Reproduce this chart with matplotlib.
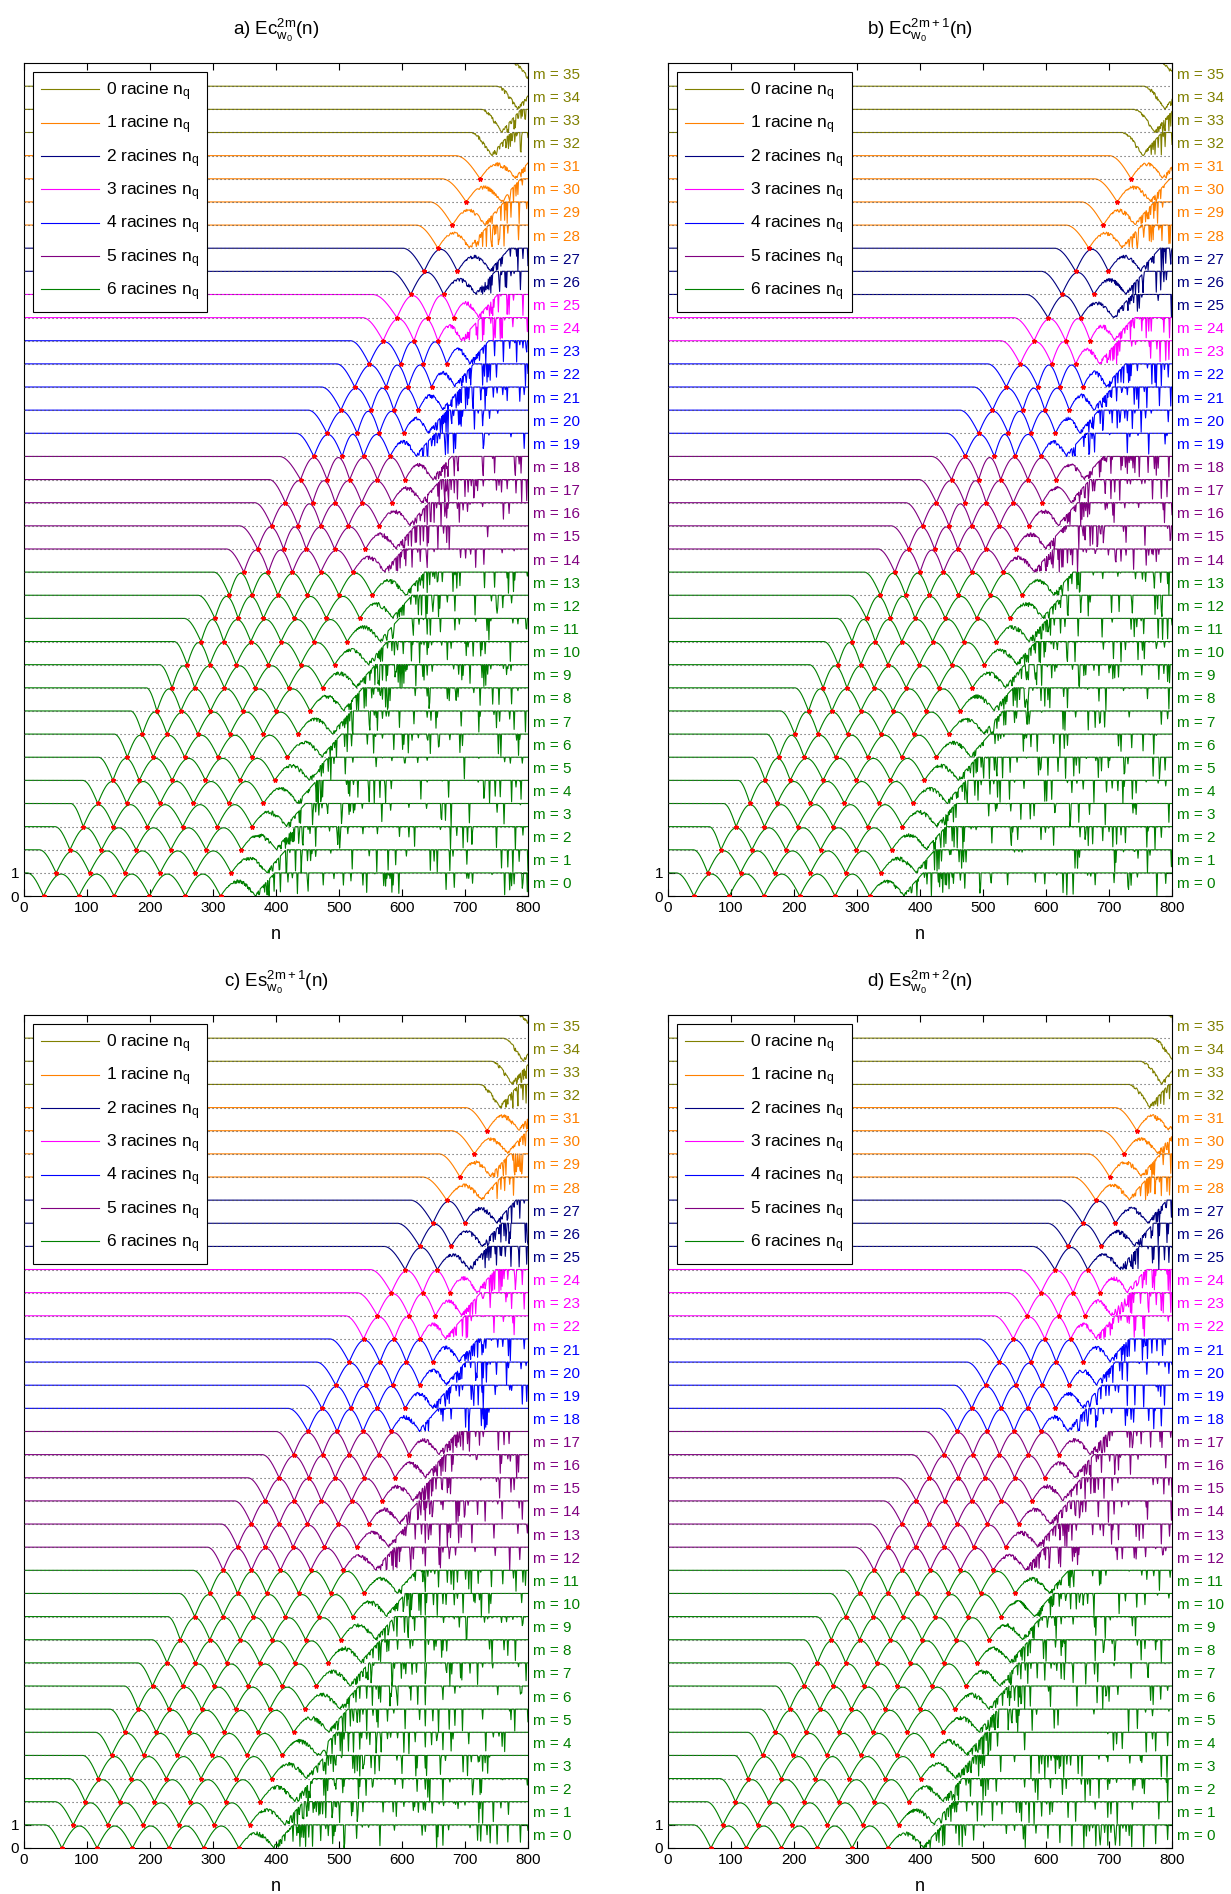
import numpy as np
import matplotlib
matplotlib.use("Agg")
import matplotlib.pyplot as plt
from matplotlib.lines import Line2D

plt.rcParams["font.family"] = ["Liberation Sans", "DejaVu Sans"]
plt.rcParams["mathtext.fontset"] = "custom"
plt.rcParams["mathtext.rm"] = "Liberation Sans"
plt.rcParams["mathtext.it"] = "Liberation Sans:italic"

# ---------------------------------------------------------------------------
# Data: for every order m (0..35) the abscissa where the curve leaves its
# plateau and the abscissas of the roots n_q.
# ---------------------------------------------------------------------------
M_VALUES = list(range(36))

ONSET_A = [5, 24, 49, 74, 93, 118, 143, 169, 194, 215, 238, 254, 276, 301, 321, 342,
           366, 389, 405, 432, 451, 472, 496, 518, 537, 553, 581, 601, 622, 644, 663,
           685, 710, 726, 751, 776]
ROOTS_A = [
    [31, 87, 143, 199, 256, 312], [51, 104, 160, 216, 272, 329],
    [73, 123, 178, 233, 289, 345], [94, 142, 196, 252, 307, 362],
    [117, 163, 216, 269, 325, 380], [141, 183, 235, 288, 343, 398],
    [164, 205, 255, 308, 362, 418], [188, 227, 276, 327, 380, 435],
    [211, 249, 296, 347, 400, 454], [235, 271, 318, 367, 420, 474],
    [259, 295, 337, 388, 439, 493], [281, 317, 360, 408, 460, 513],
    [303, 340, 380, 429, 480, 533], [326, 362, 403, 450, 500, 553],
    [349, 388, 426, 471, 522], [371, 412, 448, 493, 542],
    [393, 435, 471, 515, 564], [415, 458, 494, 536, 584],
    [439, 481, 517, 561, 605], [460, 505, 539, 581],
    [481, 529, 564, 603], [503, 551, 587, 626],
    [525, 575, 610, 647], [548, 598, 634, 671],
    [570, 619, 657], [592, 642, 682],
    [614, 666], [635, 688],
    [657], [680], [702], [724],
    [], [], [], [],
]

ONSET_B = [13, 40, 65, 88, 111, 133, 156, 178, 201, 224, 247, 268, 286, 311, 333, 354,
           377, 398, 418, 442, 463, 485, 507, 528, 548, 568, 592, 613, 631, 656, 676,
           700, 721, 740, 756, 782]
ROOTS_B = [
    [41, 97, 152, 209, 265, 320], [63, 115, 169, 226, 282, 338],
    [84, 133, 187, 242, 299, 355], [108, 153, 206, 262, 317, 372],
    [130, 173, 226, 280, 335, 389], [154, 194, 246, 299, 353, 407],
    [176, 216, 266, 317, 371, 426], [201, 238, 285, 338, 390, 446],
    [223, 260, 306, 357, 410, 464], [246, 284, 327, 378, 430, 483],
    [270, 306, 349, 399, 450, 502], [292, 329, 371, 420, 469, 521],
    [315, 353, 392, 440, 490, 543], [337, 377, 415, 461, 511, 562],
    [360, 400, 437, 482, 532], [382, 423, 460, 504, 552],
    [404, 446, 482, 526, 573], [426, 471, 505, 548, 594],
    [450, 493, 528, 571, 616], [472, 518, 551, 592],
    [493, 540, 576, 615], [515, 563, 598, 637],
    [537, 587, 622, 659], [559, 609, 647],
    [581, 631, 670], [603, 655],
    [625, 676], [647, 699],
    [668], [691], [713], [735],
    [], [], [], [],
]

ONSET_C = [33, 49, 71, 93, 113, 136, 159, 180, 203, 228, 246, 268, 291, 313, 334, 355,
           378, 400, 419, 443, 464, 485, 510, 528, 549, 571, 592, 613, 632, 658, 678,
           700, 723, 742, 760, 784]
ROOTS_C = [
    [60, 116, 172, 230, 285, 341], [78, 133, 189, 246, 302, 358],
    [97, 152, 207, 264, 320, 375], [118, 170, 226, 281, 337, 393],
    [139, 190, 243, 298, 354, 410], [160, 210, 262, 318, 372, 428],
    [181, 230, 282, 336, 390, 446], [204, 252, 302, 356, 410, 464],
    [227, 272, 322, 374, 430, 483], [248, 295, 343, 394, 447, 503],
    [271, 316, 364, 415, 468, 522], [295, 339, 385, 436, 487, 540],
    [316, 361, 407, 455, 507], [339, 383, 427, 477, 528],
    [361, 405, 450, 499, 548], [383, 429, 472, 520, 569],
    [405, 452, 494, 540, 589], [428, 474, 516, 563, 611],
    [451, 497, 538, 583], [473, 519, 561, 605],
    [495, 543, 585, 628], [516, 565, 607, 649],
    [539, 588, 629], [561, 611, 653], [583, 633, 676],
    [605, 656], [628, 678], [649, 700],
    [671], [692], [715], [735],
    [], [], [], [],
]

ONSET_D = [40, 61, 82, 105, 126, 146, 170, 191, 215, 235, 257, 279, 297, 321, 342, 363,
           387, 408, 430, 454, 474, 493, 517, 538, 557, 578, 602, 621, 642, 666, 687,
           709, 732, 751, 769, 793]
ROOTS_D = [
    [68, 124, 180, 237, 292, 349], [87, 142, 197, 253, 309, 366],
    [107, 160, 216, 271, 327, 382], [127, 180, 234, 288, 345, 401],
    [150, 198, 252, 306, 363, 419], [170, 219, 272, 325, 380, 437],
    [193, 241, 291, 345, 400, 455], [216, 262, 311, 364, 419, 473],
    [237, 282, 331, 384, 438, 491], [259, 304, 353, 403, 457, 510],
    [282, 326, 373, 424, 476, 529], [304, 349, 395, 445, 496, 551],
    [327, 371, 416, 464, 516], [349, 393, 438, 485, 536],
    [371, 415, 459, 507, 557], [394, 439, 482, 529, 578],
    [415, 461, 503, 550, 598], [438, 484, 526, 572, 621],
    [459, 507, 549, 592], [482, 529, 571, 615],
    [504, 552, 594, 637], [526, 576, 616, 659],
    [548, 598, 639], [570, 620, 662], [592, 643, 686],
    [614, 666], [635, 688], [658, 710],
    [679], [701], [724], [744],
    [], [], [], [],
]

TITLES = [r"a) $\mathrm{Ec}^{\mathrm{2m}}_{\mathrm{w}_{0}}\mathrm{(n)}$",
          r"b) $\mathrm{Ec}^{\mathrm{2m+1}}_{\mathrm{w}_{0}}\mathrm{(n)}$",
          r"c) $\mathrm{Es}^{\mathrm{2m+1}}_{\mathrm{w}_{0}}\mathrm{(n)}$",
          r"d) $\mathrm{Es}^{\mathrm{2m+2}}_{\mathrm{w}_{0}}\mathrm{(n)}$"]

# colour by number of roots
ROOT_COLORS = ["#808000", "#FF8000", "#000080", "#FF00FF", "#0000FF", "#800080", "#008000"]
LEGEND_LABELS = [r"0 racine $\mathrm{n_q}$", r"1 racine $\mathrm{n_q}$"] + \
    [rf"{k} racines $\mathrm{{n_q}}$" for k in range(2, 7)]

X_TICKS = list(range(0, 801, 100))
Y_TICKS = [0, 1]


def curve(n, onset, roots, idx, panel):
    """Normalised trace of order idx: plateau, arches between roots, aliased tail."""
    k = len(roots)
    if k >= 2:
        dip = roots[-1] + (roots[-1] - roots[-2])
    elif k == 1:
        dip = roots[0] + 1.45 * (roots[0] - onset)
    else:
        dip = onset + 33
    kx = [onset] + list(roots) + [dip]
    kp = [0.0] + [np.pi / 2 + i * np.pi for i in range(k)] + [np.pi / 2 + k * np.pi]
    phi = np.interp(n, kx, kp)
    y = np.abs(np.cos(phi))

    last = roots[-1] if k else onset
    amp = np.ones_like(n)
    if k:
        amp[(n > roots[0]) & (n <= last)] = 0.95
        amp[n > last] = 0.7
    y = y * amp

    # fast oscillation sampled on the integer grid (aliased)
    w = 0.61803398875 * (1.0 + 0.1371 * idx) + 0.2915 * panel + 0.013
    u = np.abs(np.sin(w * n * n + 0.7 * idx * n))

    tail = (n > last) & (n <= dip)
    ramp = np.clip((n - last) / max(dip - last, 1), 0, 1)
    y = np.where(tail, y * (1 - 0.5 * ramp * (1 - u)), y)

    after = n > dip
    d = n - dip
    env = np.clip(0.1 + 0.9 * d / 30.0, 0, 1)
    eps = 0.11 + 0.89 * np.exp(-d / 30.0)
    y = np.where(after, env * np.minimum(1.0, u / eps), y)
    return y


fig = plt.figure(figsize=(12.31, 18.94), dpi=100)
axes_rects = [
    [0.0195, 0.5269, 0.4094, 0.4398],
    [0.5427, 0.5269, 0.4094, 0.4398],
    [0.0195, 0.0243, 0.4094, 0.4398],
    [0.5427, 0.0243, 0.4094, 0.4398],
]
panels = [(ONSET_A, ROOTS_A), (ONSET_B, ROOTS_B), (ONSET_C, ROOTS_C), (ONSET_D, ROOTS_D)]

for p, (rect, (onsets, roots_all), title) in enumerate(zip(axes_rects, panels, TITLES)):
    ax = fig.add_axes(rect)
    for m in M_VALUES:
        roots = roots_all[m]
        color = ROOT_COLORS[len(roots)]
        n = np.union1d(np.arange(0, 801, dtype=float), np.array(roots, dtype=float))
        y = curve(n, onsets[m], roots, m, p)
        ax.plot(n, m + y, color=color, lw=0.8, zorder=2)
        if roots:
            ax.plot(roots, [m] * len(roots), ls="none", marker="*", ms=3.2,
                    color="red", mec="red", zorder=5)
        ax.text(1.01, (m + 0.5) / 36.0, f"m = {m}", transform=ax.transAxes,
                color=color, fontsize=11, va="center", ha="left")
    for lev in range(1, 36):
        ax.axhline(lev, color="0.3", ls=(0, (1, 2.6)), lw=0.8, zorder=3)

    ax.set_xlim(0, 800)
    ax.set_ylim(0, 36)
    ax.set_xticks(X_TICKS)
    ax.set_yticks(Y_TICKS)
    ax.tick_params(direction="in", top=True, right=True, length=5, labelsize=11)
    ax.set_xlabel("n", fontsize=13, labelpad=8)
    ax.set_title(title, fontsize=13.5, pad=20)

    handles = [Line2D([], [], color=c, lw=0.8) for c in ROOT_COLORS]
    leg = ax.legend(handles, LEGEND_LABELS, loc="upper left", fontsize=12.5,
                    frameon=True, fancybox=False, edgecolor="black", framealpha=1,
                    handlelength=3.3, handletextpad=0.4, labelspacing=0.62,
                    borderaxespad=0.5, borderpad=0.5)
    leg.get_frame().set_linewidth(0.8)
    leg.set_zorder(10)

fig.savefig("out.png", dpi=100)
